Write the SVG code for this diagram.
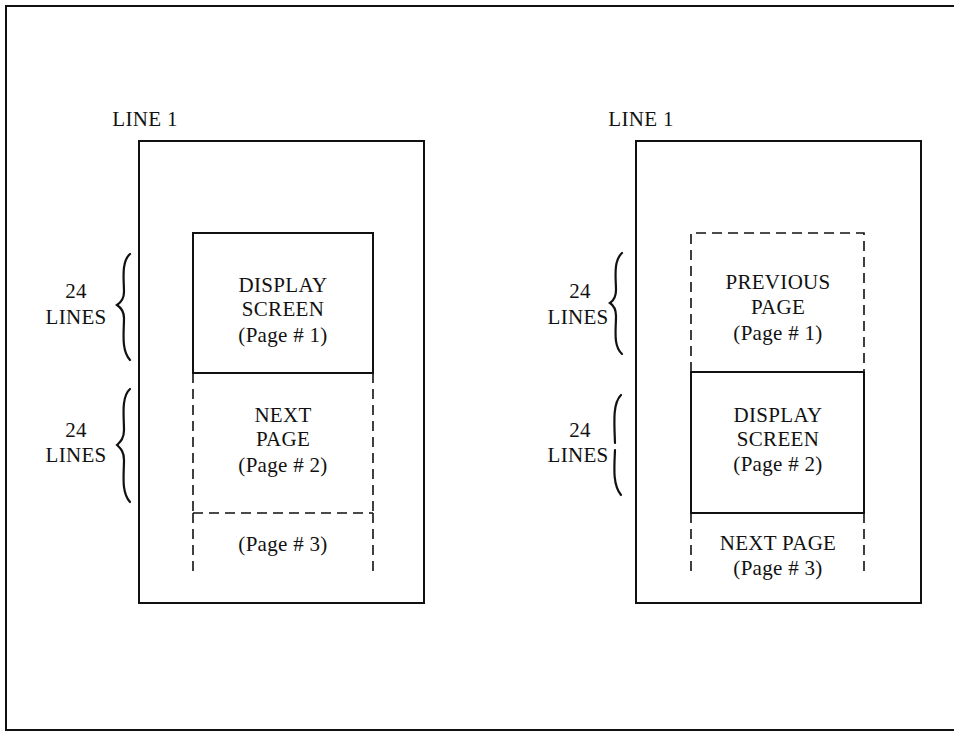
<svg xmlns="http://www.w3.org/2000/svg" width="954" height="732" viewBox="0 0 954 732">
<style>
.s{fill:none;stroke:#111;stroke-width:2}
.d{fill:none;stroke:#111;stroke-width:1.6;stroke-dasharray:10 6}
.b{fill:none;stroke:#111;stroke-width:2.2;stroke-linecap:round}
text{font-family:"Liberation Serif","Times New Roman",serif;font-size:21px;fill:#111;text-anchor:middle;letter-spacing:0.3px}
</style>
<rect width="954" height="732" fill="#fff"/>
<path class="s" d="M954,6 L6,6 L6,730 L954,730"/>
<g id="left">
<g id="left-frame">
<rect class="s" x="139" y="141" width="285" height="462"/>
<text x="145" y="126">LINE 1</text>
</g>
<g id="left-page1">
<rect class="s" x="193" y="233" width="180" height="140"/>
<text x="283" y="292">DISPLAY</text>
<text x="283" y="316">SCREEN</text>
<text x="283" y="342">(Page # 1)</text>
</g>
<g id="left-page2">
<path class="d" d="M193,373 V513 M373,373 V513"/>
<text x="283" y="422">NEXT</text>
<text x="283" y="446">PAGE</text>
<text x="283" y="472">(Page # 2)</text>
</g>
<g id="left-page3">
<path class="d" d="M193,513 H373 M193,513 V577 M373,513 V577"/>
<text x="283" y="551">(Page # 3)</text>
</g>
<g id="left-brace1">
<path class="b" d="M130,254 C121,262 124,280 124,292 C124,300 120,303 117,305 C120,307 124,310 124,318 C124,332 121,350 130,360"/>
<text x="76" y="298">24</text>
<text x="76" y="324">LINES</text>
</g>
<g id="left-brace2">
<path class="b" d="M130,389 C121,397 124,417 124,430 C124,439 120,442 117,445 C120,448 124,451 124,460 C124,474 121,492 130,502"/>
<text x="76" y="437">24</text>
<text x="76" y="462">LINES</text>
</g>
</g>
<g id="right">
<g id="right-frame">
<rect class="s" x="636" y="141" width="285" height="462"/>
<text x="641" y="126">LINE 1</text>
</g>
<g id="right-page1">
<path class="d" d="M691,372 V233 H864 V372"/>
<text x="778" y="289">PREVIOUS</text>
<text x="778" y="314">PAGE</text>
<text x="778" y="340">(Page # 1)</text>
</g>
<g id="right-page2">
<rect class="s" x="691" y="372" width="173" height="141"/>
<text x="778" y="422">DISPLAY</text>
<text x="778" y="446">SCREEN</text>
<text x="778" y="471">(Page # 2)</text>
</g>
<g id="right-page3">
<path class="d" d="M691,513 V577 M864,513 V577"/>
<text x="778" y="550">NEXT PAGE</text>
<text x="778" y="575">(Page # 3)</text>
</g>
<g id="right-brace1">
<path class="b" d="M622,253 C613,261 616,279 616,290 C616,298 613,301 610,303 C613,305 616,308 616,316 C616,330 613,346 622,354"/>
<text x="580" y="298">24</text>
<text x="578" y="324">LINES</text>
</g>
<g id="right-brace2">
<path class="b" d="M621,395 C613,403 614,420 615,443"/>
<path class="b" d="M615,450 C614,470 613,485 621,495"/>
<text x="580" y="437">24</text>
<text x="578" y="462">LINES</text>
</g>
</g>
</svg>
